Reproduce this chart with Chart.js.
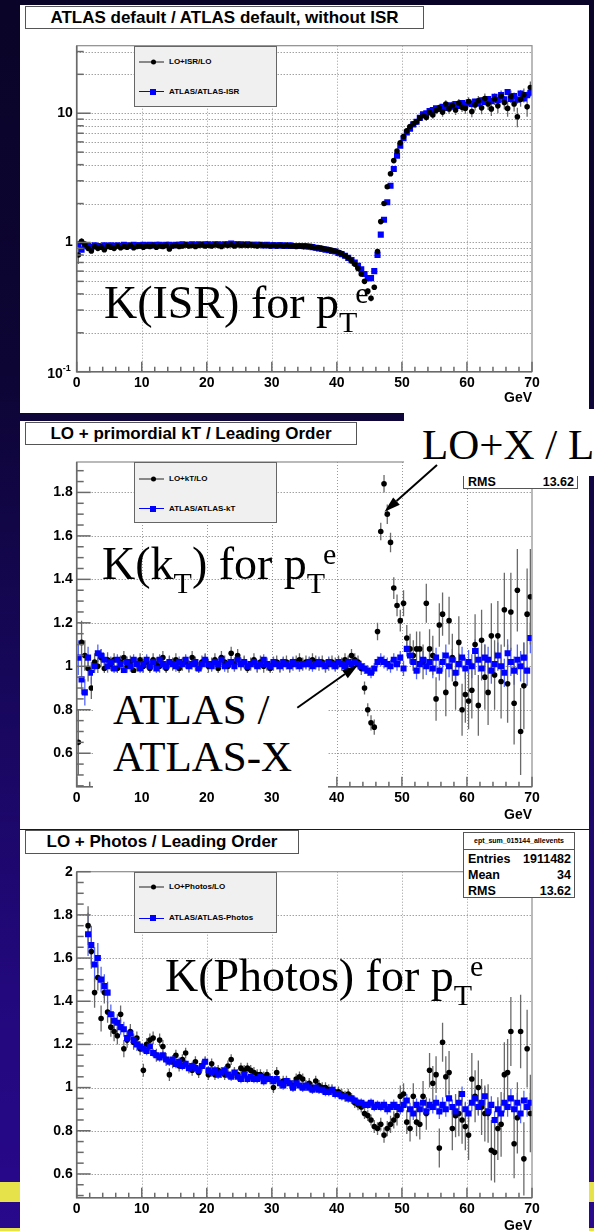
<!DOCTYPE html>
<html><head><meta charset="utf-8">
<script src="https://cdn.jsdelivr.net/npm/chart.js@4.4.0/dist/chart.umd.min.js"></script>
<style>
html,body{margin:0;padding:0}
body{width:594px;height:1231px;position:relative;overflow:hidden;
 background:linear-gradient(to bottom,#0a0428 0%,#0d0534 30%,#17075a 55%,#22087c 80%,#28088c 100%);
 font-family:"Liberation Sans",Arial,Helvetica,sans-serif}
.a{position:absolute}
.yel{position:absolute;background:#e6e24a;left:0;width:594px}
.wp{position:absolute;background:#fff}
.tbox{position:absolute;background:#fff;border:1px solid #555;box-sizing:border-box;font-weight:bold;font-size:17px;text-align:center;color:#000;white-space:nowrap}
canvas{position:absolute}
.leg{position:absolute;background:#f0f0f0;border:1px solid #666;box-sizing:border-box}
.leg .ln{position:absolute;left:4px;width:25px;height:0}
.leg .t{position:absolute;left:34px;font-size:8px;font-weight:bold;line-height:1;transform:translateY(-50%);white-space:nowrap}
.leg .dot{position:absolute;left:15.5px;width:5px;height:5px;border-radius:50%;background:#000;transform:translateY(-50%)}
.leg .sq{position:absolute;left:15px;width:6px;height:6px;background:#0000ff;transform:translateY(-50%)}
.serif{position:absolute;font-family:"Liberation Serif","Times New Roman",serif;color:#000;white-space:nowrap;line-height:1}
.serif .sub{font-size:30px;position:relative;top:14px}
.serif .sup{font-size:30px;position:relative;top:-15px}
.stat{position:absolute;background:#fff;border:1px solid #555;box-sizing:border-box;font-weight:bold;color:#000}
.stat .row{position:absolute;left:4px;right:3px;display:flex;justify-content:space-between;font-size:12.5px;line-height:1;transform:translateY(-50%)}
</style></head>
<body>
<div class="yel" style="top:1182px;height:20px"></div>
<div class="yel" style="top:1228px;height:3px"></div>
<div class="wp" style="left:20px;top:5px;width:569px;height:408px"></div>
<div class="wp" style="left:20px;top:421px;width:569px;height:408px"></div>
<div class="wp" style="left:20px;top:830px;width:569px;height:401px"></div>

<canvas id="c1" width="569" height="408" style="left:20px;top:5px;width:569px;height:408px"></canvas>
<canvas id="c2" width="569" height="408" style="left:20px;top:421px;width:569px;height:408px"></canvas>
<canvas id="c3" width="569" height="401" style="left:20px;top:830px;width:569px;height:401px"></canvas>

<!-- titles -->
<div class="tbox" style="left:25px;top:6px;width:399px;height:23px;line-height:21px">ATLAS default / ATLAS default, without ISR</div>
<div class="tbox" style="left:25px;top:422px;width:332px;height:23px;line-height:21px">LO + primordial kT / Leading Order</div>
<div class="tbox" style="left:25px;top:830px;width:274px;height:24px;line-height:22px">LO + Photos / Leading Order</div>

<!-- legends -->
<div class="leg" style="left:134px;top:46px;width:143px;height:61px">
 <div class="ln" style="top:14px;border-top:2px solid #888"></div><div class="dot" style="top:15px"></div>
 <div class="t" style="top:15px">LO+ISR/LO</div>
 <div class="ln" style="top:44px;border-top:1px solid #0000ff"></div><div class="sq" style="top:44.5px"></div>
 <div class="t" style="top:44.5px">ATLAS/ATLAS-ISR</div>
</div>
<div class="leg" style="left:134px;top:462px;width:143px;height:61px">
 <div class="ln" style="top:14.5px;border-top:2px solid #888"></div><div class="dot" style="top:15.5px"></div>
 <div class="t" style="top:15.5px">LO+kT/LO</div>
 <div class="ln" style="top:45px;border-top:1px solid #0000ff"></div><div class="sq" style="top:45.5px"></div>
 <div class="t" style="top:45.5px">ATLAS/ATLAS-kT</div>
</div>
<div class="leg" style="left:134px;top:872px;width:143px;height:61px">
 <div class="ln" style="top:13px;border-top:2px solid #888"></div><div class="dot" style="top:14px"></div>
 <div class="t" style="top:14px">LO+Photos/LO</div>
 <div class="ln" style="top:44.5px;border-top:1px solid #0000ff"></div><div class="sq" style="top:45px"></div>
 <div class="t" style="top:45px">ATLAS/ATLAS-Photos</div>
</div>

<!-- stats boxes -->
<div class="stat" style="left:463px;top:440px;width:115px;height:49px">
 <div class="row" style="top:41px"><span>RMS</span><span>13.62</span></div>
</div>
<div class="stat" style="left:463px;top:832px;width:112px;height:66px">
 <div style="height:16px;border-bottom:1px solid #555;font-size:7px;text-align:center;line-height:16px">ept_sum_015144_allevents</div>
 <div class="row" style="top:25.5px"><span>Entries</span><span>1911482</span></div>
 <div class="row" style="top:42px"><span>Mean</span><span>34</span></div>
 <div class="row" style="top:58px"><span>RMS</span><span>13.62</span></div>
</div>

<!-- big annotation texts -->
<div class="serif" style="left:104px;top:280px;font-size:46px">K(ISR) for p<span class="sub">T</span><span class="sup">e</span></div>
<div class="serif" style="left:102px;top:541px;font-size:46px">K(k<span class="sub">T</span>) for p<span class="sub">T</span><span class="sup">e</span></div>
<div class="serif" style="left:165px;top:953px;font-size:46px">K(Photos) for p<span class="sub">T</span><span class="sup">e</span></div>
<div class="a" style="left:93px;top:673px;width:235px;height:115px;background:#fff"></div>
<div class="serif" style="left:113px;top:688px;font-size:43px">ATLAS /</div>
<div class="serif" style="left:113px;top:735px;font-size:43px">ATLAS-X</div>
<div class="a" style="left:404px;top:409px;width:190px;height:67px;background:#fff;overflow:hidden">
 <div class="serif" style="left:18px;top:14px;font-size:43px">LO+X / L</div>
</div>

<svg class="a" style="left:0;top:0" width="594" height="1231">
 <line x1="437" y1="465" x2="396.5" y2="501" stroke="#000" stroke-width="2"/>
 <polygon points="384.5,511.7 399.8,504.8 393.2,497.4" fill="#000"/>
 <line x1="297.3" y1="707.7" x2="345" y2="674" stroke="#000" stroke-width="2"/>
 <polygon points="358,665 347.8,678.3 342,670.1" fill="#000"/>
</svg>

<script>
// ---------- DATA ----------
const binCenters = [
0.25,0.75,1.25,1.75,2.25,2.75,3.25,3.75,4.25,4.75,
5.25,5.75,6.25,6.75,7.25,7.75,8.25,8.75,9.25,9.75,
10.25,10.75,11.25,11.75,12.25,12.75,13.25,13.75,14.25,14.75,
15.25,15.75,16.25,16.75,17.25,17.75,18.25,18.75,19.25,19.75,
20.25,20.75,21.25,21.75,22.25,22.75,23.25,23.75,24.25,24.75,
25.25,25.75,26.25,26.75,27.25,27.75,28.25,28.75,29.25,29.75,
30.25,30.75,31.25,31.75,32.25,32.75,33.25,33.75,34.25,34.75,
35.25,35.75,36.25,36.75,37.25,37.75,38.25,38.75,39.25,39.75,
40.25,40.75,41.25,41.75,42.25,42.75,43.25,43.75,44.25,44.75,
45.25,45.75,46.25,46.75,47.25,47.75,48.25,48.75,49.25,49.75,
50.25,50.75,51.25,51.75,52.25,52.75,53.25,53.75,54.25,54.75,
55.25,55.75,56.25,56.75,57.25,57.75,58.25,58.75,59.25,59.75,
60.25,60.75,61.25,61.75,62.25,62.75,63.25,63.75,64.25,64.75,
65.25,65.75,66.25,66.75,67.25,67.75,68.25,68.75,69.25,69.75];

const xTickLabels = [0,10,20,30,40,50,60,70];

// Panel 1: ISR (log scale)
const isrLoRatio = [
0.80,1.02,0.97,0.90,0.86,0.93,0.90,0.92,0.88,0.93,
0.92,0.90,0.94,0.91,0.93,0.92,0.95,0.91,0.93,0.94,
0.92,0.94,0.93,0.95,0.92,0.94,0.93,0.95,0.89,0.94,
0.95,0.93,0.94,0.96,0.94,0.95,0.93,0.95,0.96,0.94,
0.95,0.94,0.96,0.95,0.93,0.96,0.95,0.96,0.94,0.96,
0.95,0.96,0.95,0.96,0.95,0.94,0.96,0.95,0.95,0.94,
0.95,0.94,0.95,0.94,0.95,0.94,0.94,0.93,0.94,0.93,
0.94,0.93,0.92,0.91,0.91,0.90,0.89,0.88,0.87,0.86,
0.84,0.82,0.79,0.76,0.72,0.68,0.63,0.57,0.50,0.42,
0.37,0.45,0.85,1.45,2.0,2.7,3.4,4.3,5.1,5.9,
6.6,7.3,7.9,8.3,8.6,9.2,9.6,9.3,10.2,9.7,
10.5,11.0,10.2,11.8,10.8,11.5,10.6,12.0,11.1,10.9,
12.3,10.3,11.6,12.5,11.0,13.0,11.8,10.8,12.9,11.4,
13.6,12.1,10.9,13.5,11.8,9.4,12.8,13.9,11.2,15.8];
const isrLoErr = [
0.12,0.06,0.05,0.04,0.03,0.03,0.03,0.03,0.02,0.02,
0.02,0.02,0.02,0.02,0.02,0.02,0.02,0.02,0.02,0.02,
0.02,0.02,0.02,0.02,0.02,0.02,0.02,0.02,0.02,0.02,
0.02,0.02,0.02,0.02,0.02,0.02,0.02,0.02,0.02,0.02,
0.02,0.02,0.02,0.02,0.02,0.02,0.02,0.02,0.02,0.02,
0.02,0.02,0.02,0.02,0.02,0.02,0.02,0.02,0.02,0.02,
0.02,0.02,0.02,0.02,0.02,0.02,0.02,0.02,0.02,0.02,
0.02,0.02,0.02,0.02,0.02,0.02,0.02,0.02,0.02,0.02,
0.02,0.02,0.02,0.02,0.02,0.02,0.02,0.02,0.02,0.02,
0.02,0.02,0.03,0.05,0.07,0.09,0.12,0.15,0.18,0.22,
0.25,0.3,0.35,0.4,0.45,0.5,0.5,0.6,0.6,0.65,
0.7,0.7,0.8,0.8,0.85,0.85,0.9,0.9,0.9,1.0,
1.0,1.0,1.1,1.1,1.2,1.2,1.2,1.3,1.3,1.4,
1.4,1.4,1.5,1.5,1.5,1.6,1.6,1.6,1.8,1.8];
const isrAtlasRatio = [
0.97,0.88,0.95,0.94,0.92,0.95,0.94,0.93,0.95,0.94,
0.95,0.94,0.95,0.94,0.96,0.95,0.94,0.96,0.95,0.95,
0.96,0.95,0.96,0.95,0.96,0.96,0.95,0.96,0.96,0.95,
0.96,0.96,0.97,0.96,0.96,0.97,0.96,0.97,0.96,0.97,
0.97,0.96,0.97,0.97,0.96,0.97,0.97,0.98,0.97,0.97,
0.97,0.96,0.97,0.96,0.96,0.96,0.96,0.95,0.96,0.95,
0.95,0.95,0.95,0.95,0.94,0.95,0.94,0.94,0.94,0.94,
0.93,0.93,0.92,0.91,0.90,0.89,0.88,0.87,0.86,0.85,
0.83,0.81,0.79,0.76,0.73,0.70,0.66,0.62,0.57,0.53,
0.53,0.60,0.80,1.15,1.50,2.05,2.75,3.7,4.7,5.6,
6.4,7.1,7.6,8.2,8.6,9.2,9.8,10.0,10.4,10.6,
10.9,10.8,11.2,11.0,11.5,11.3,11.8,11.4,12.0,11.6,
12.1,11.8,12.3,11.9,12.6,12.2,12.9,12.4,13.4,12.6,
13.8,12.8,14.6,12.9,13.6,12.7,14.2,13.0,13.8,14.4];
const isrAtlasErr = [
0.06,0.04,0.03,0.03,0.02,0.02,0.02,0.02,0.02,0.02,
0.01,0.01,0.01,0.01,0.01,0.01,0.01,0.01,0.01,0.01,
0.01,0.01,0.01,0.01,0.01,0.01,0.01,0.01,0.01,0.01,
0.01,0.01,0.01,0.01,0.01,0.01,0.01,0.01,0.01,0.01,
0.01,0.01,0.01,0.01,0.01,0.01,0.01,0.01,0.01,0.01,
0.01,0.01,0.01,0.01,0.01,0.01,0.01,0.01,0.01,0.01,
0.01,0.01,0.01,0.01,0.01,0.01,0.01,0.01,0.01,0.01,
0.01,0.01,0.01,0.01,0.01,0.01,0.01,0.01,0.01,0.01,
0.01,0.01,0.01,0.01,0.01,0.01,0.01,0.01,0.01,0.01,
0.01,0.01,0.02,0.03,0.04,0.05,0.07,0.09,0.11,0.13,
0.15,0.18,0.2,0.22,0.25,0.28,0.3,0.32,0.34,0.36,
0.38,0.4,0.42,0.44,0.46,0.48,0.5,0.52,0.54,0.56,
0.58,0.6,0.62,0.64,0.66,0.68,0.7,0.72,0.74,0.76,
0.78,0.8,0.82,0.84,0.86,0.88,0.9,0.92,0.94,0.96];

// Panel 2: primordial kT
const ktLoRatio = [
0.65,1.11,1.05,0.99,0.90,1.02,1.00,1.04,0.99,1.03,
1.01,1.03,0.99,1.02,1.04,1.00,1.02,0.98,1.01,1.03,
1.00,1.02,0.99,1.03,1.01,1.00,1.04,0.99,1.02,1.01,
1.03,0.99,1.01,1.02,1.00,1.04,1.01,0.99,1.02,1.03,
1.00,1.01,1.03,0.99,1.04,1.02,1.00,1.06,1.01,1.05,
1.01,1.02,0.99,1.01,1.03,1.00,1.02,1.00,1.01,0.99,
1.01,1.02,1.00,1.01,1.02,1.00,1.01,1.02,1.03,1.01,
1.02,1.01,1.03,1.02,1.01,1.02,1.00,1.01,1.02,1.01,
1.02,1.01,1.03,1.02,1.05,1.03,1.02,0.99,0.90,0.80,
0.74,0.72,1.16,1.62,1.84,1.70,1.57,1.36,1.28,1.21,
1.29,1.13,1.08,1.05,1.08,1.08,1.02,1.29,1.08,1.05,
0.85,1.19,1.24,0.88,1.21,1.04,0.92,1.11,0.80,0.87,
0.84,0.89,1.10,0.82,1.12,0.95,0.88,1.14,0.96,1.14,
0.93,1.26,0.92,1.25,0.83,1.35,0.70,0.91,1.24,1.32];
const ktLoErr = [
0.15,0.1,0.07,0.06,0.05,0.04,0.04,0.04,0.035,0.035,
0.03,0.03,0.03,0.03,0.03,0.03,0.03,0.03,0.03,0.03,
0.03,0.03,0.03,0.03,0.03,0.03,0.03,0.03,0.03,0.03,
0.03,0.03,0.03,0.03,0.03,0.03,0.03,0.03,0.03,0.03,
0.03,0.03,0.03,0.03,0.03,0.03,0.03,0.03,0.03,0.03,
0.03,0.03,0.03,0.03,0.03,0.03,0.03,0.03,0.03,0.03,
0.03,0.03,0.03,0.03,0.03,0.03,0.03,0.03,0.03,0.03,
0.03,0.03,0.03,0.03,0.03,0.03,0.03,0.03,0.03,0.03,
0.03,0.03,0.03,0.03,0.03,0.03,0.03,0.03,0.03,0.03,
0.035,0.035,0.04,0.04,0.04,0.045,0.045,0.05,0.05,0.05,
0.06,0.06,0.07,0.07,0.08,0.08,0.08,0.09,0.09,0.09,
0.1,0.1,0.1,0.11,0.11,0.11,0.12,0.12,0.12,0.13,
0.13,0.13,0.14,0.14,0.14,0.15,0.15,0.15,0.16,0.16,
0.17,0.17,0.18,0.18,0.19,0.19,0.2,0.2,0.21,0.22];
const ktAtlasRatio = [
1.04,0.94,0.88,1.04,0.97,1.00,1.06,1.05,1.03,1.00,
1.02,0.99,1.03,1.01,0.98,1.02,1.00,1.03,1.01,0.99,
1.01,1.03,1.00,1.02,0.99,1.03,1.01,1.00,1.02,1.01,
1.00,1.02,1.01,1.03,1.00,1.01,1.02,0.99,1.01,1.03,
1.01,1.00,1.02,1.01,1.03,1.00,1.01,1.02,1.00,1.03,
1.01,1.02,1.00,1.01,1.02,1.00,1.01,1.03,1.01,1.00,
1.02,1.01,1.00,1.02,1.01,1.00,1.02,1.01,1.00,1.01,
1.01,1.02,1.00,1.01,1.02,1.01,1.00,1.02,1.01,1.00,
1.02,1.01,1.00,1.02,1.01,1.02,1.01,1.00,0.99,0.98,
0.97,0.99,1.02,1.03,1.02,1.01,1.00,1.03,1.01,1.04,
0.99,1.08,1.05,1.02,0.98,1.01,1.03,1.00,1.02,0.99,
1.04,0.98,1.02,1.05,1.00,1.03,0.97,1.01,1.04,0.99,
1.02,1.00,1.07,1.03,0.99,1.04,1.03,0.98,1.01,1.05,
1.00,0.97,1.06,1.02,0.98,1.03,1.00,1.04,0.98,1.13];
const ktAtlasErr = [
0.08,0.07,0.06,0.05,0.05,0.04,0.04,0.03,0.03,0.03,
0.025,0.025,0.025,0.025,0.025,0.025,0.025,0.025,0.025,0.025,
0.025,0.025,0.025,0.025,0.025,0.025,0.025,0.025,0.025,0.025,
0.025,0.025,0.025,0.025,0.025,0.025,0.025,0.025,0.025,0.025,
0.025,0.025,0.025,0.025,0.025,0.025,0.025,0.025,0.025,0.025,
0.025,0.025,0.025,0.025,0.025,0.025,0.025,0.025,0.025,0.025,
0.025,0.025,0.025,0.025,0.025,0.025,0.025,0.025,0.025,0.025,
0.025,0.025,0.025,0.025,0.025,0.025,0.025,0.025,0.025,0.025,
0.025,0.025,0.025,0.025,0.025,0.025,0.025,0.025,0.025,0.025,
0.025,0.025,0.025,0.03,0.03,0.03,0.03,0.03,0.03,0.03,
0.035,0.035,0.035,0.04,0.04,0.04,0.04,0.04,0.045,0.045,
0.045,0.045,0.045,0.05,0.05,0.05,0.05,0.05,0.05,0.05,
0.055,0.055,0.055,0.055,0.055,0.06,0.06,0.06,0.06,0.06,
0.06,0.065,0.065,0.065,0.065,0.07,0.07,0.07,0.07,0.07];

// Panel 3: Photos
const phLoRatio = [
null,null,null,1.75,1.63,1.44,1.51,1.32,1.44,1.35,
1.28,1.26,1.24,1.34,1.18,1.22,1.26,1.21,1.23,1.18,
1.08,1.20,1.22,1.23,1.15,1.22,1.19,1.13,1.06,1.12,
1.15,1.10,1.13,1.16,1.09,1.08,1.12,1.07,1.10,1.12,
1.06,1.11,1.06,1.08,1.07,1.06,1.10,1.13,1.07,1.06,
1.09,1.08,1.09,1.08,1.07,1.06,1.06,1.05,1.06,1.04,
1.00,1.07,1.02,1.03,1.03,1.02,1.01,1.04,1.05,1.04,
1.01,1.02,1.00,1.03,1.01,1.00,1.00,0.99,0.99,0.98,
0.98,0.97,0.96,0.97,0.95,0.93,0.92,0.91,0.88,0.87,
0.85,0.82,0.81,0.83,0.78,0.81,0.83,0.85,0.87,0.96,
0.97,0.84,0.81,0.96,0.84,0.83,0.96,0.88,1.08,1.02,
1.06,0.72,1.21,1.05,1.07,0.81,0.87,0.88,0.85,0.82,
0.78,1.04,0.96,1.00,0.91,0.88,0.88,0.71,0.70,0.81,
0.83,1.06,1.07,1.26,0.74,0.86,1.26,0.67,1.18,0.88];
const phLoErr = [
null,null,null,0.09,0.08,0.07,0.06,0.06,0.05,0.05,
0.045,0.045,0.04,0.04,0.04,0.035,0.035,0.035,0.03,0.03,
0.03,0.03,0.03,0.03,0.03,0.03,0.03,0.03,0.03,0.03,
0.025,0.025,0.025,0.025,0.025,0.025,0.025,0.025,0.025,0.025,
0.025,0.025,0.025,0.025,0.025,0.025,0.025,0.025,0.025,0.025,
0.025,0.025,0.025,0.025,0.025,0.025,0.025,0.025,0.025,0.025,
0.025,0.025,0.025,0.025,0.025,0.025,0.025,0.025,0.025,0.025,
0.025,0.025,0.025,0.025,0.025,0.025,0.025,0.025,0.025,0.025,
0.025,0.025,0.025,0.025,0.025,0.025,0.025,0.025,0.025,0.025,
0.025,0.03,0.03,0.03,0.035,0.035,0.04,0.04,0.045,0.05,
0.05,0.055,0.06,0.06,0.065,0.07,0.07,0.075,0.08,0.08,
0.085,0.09,0.09,0.095,0.1,0.1,0.1,0.105,0.11,0.11,
0.115,0.12,0.12,0.125,0.13,0.13,0.135,0.14,0.14,0.145,
0.15,0.15,0.155,0.16,0.16,0.165,0.17,0.17,0.18,0.18];
const phAtlasRatio = [
null,null,null,1.71,1.66,1.57,1.60,1.50,1.47,1.44,
1.34,1.31,1.30,1.28,1.27,1.23,1.25,1.22,1.20,1.19,
1.18,1.17,1.19,1.16,1.15,1.14,1.15,1.13,1.12,1.13,
1.11,1.12,1.10,1.11,1.09,1.10,1.09,1.08,1.10,1.12,
1.08,1.07,1.08,1.06,1.07,1.08,1.06,1.05,1.07,1.05,
1.04,1.06,1.04,1.05,1.04,1.04,1.05,1.03,1.04,1.04,
1.03,1.04,1.02,1.01,1.03,1.02,1.00,1.02,1.01,1.00,
1.01,1.00,0.99,1.00,0.99,0.99,0.98,0.98,0.99,0.97,
0.97,0.96,0.96,0.95,0.95,0.94,0.93,0.93,0.92,0.92,
0.93,0.91,0.92,0.91,0.92,0.90,0.91,0.92,0.91,0.90,
0.92,0.94,0.90,0.88,0.92,0.90,0.93,0.89,0.92,0.91,
0.93,0.89,0.92,0.90,0.95,0.91,0.89,0.93,0.97,0.90,
0.88,0.93,0.95,0.91,0.93,0.96,0.89,0.92,0.85,0.90,
0.88,0.93,0.91,0.95,0.90,0.93,0.88,0.94,0.91,0.93];
const phAtlasErr = [
null,null,null,0.1,0.09,0.08,0.07,0.06,0.055,0.05,
0.045,0.04,0.04,0.035,0.035,0.03,0.03,0.03,0.03,0.025,
0.02,0.02,0.02,0.02,0.02,0.02,0.02,0.02,0.02,0.02,
0.02,0.02,0.02,0.02,0.02,0.02,0.02,0.02,0.02,0.02,
0.02,0.02,0.02,0.02,0.02,0.02,0.02,0.02,0.02,0.02,
0.02,0.02,0.02,0.02,0.02,0.02,0.02,0.02,0.02,0.02,
0.02,0.02,0.02,0.02,0.02,0.02,0.02,0.02,0.02,0.02,
0.02,0.02,0.02,0.02,0.02,0.02,0.02,0.02,0.02,0.02,
0.02,0.02,0.02,0.02,0.02,0.02,0.02,0.02,0.02,0.02,
0.02,0.02,0.02,0.02,0.025,0.025,0.025,0.025,0.025,0.025,
0.03,0.03,0.03,0.03,0.03,0.03,0.03,0.03,0.03,0.03,
0.035,0.035,0.035,0.035,0.035,0.035,0.035,0.035,0.035,0.035,
0.04,0.04,0.04,0.04,0.04,0.04,0.04,0.04,0.04,0.04,
0.045,0.045,0.045,0.045,0.045,0.045,0.045,0.045,0.045,0.045];

// ---------- CHART ----------
function toPoints(vals, errs){
  const out=[];
  vals.forEach((v,i)=>{ if(v!=null) out.push({x:binCenters[i], y:v, e:errs[i]}); });
  return out;
}

const rootPlugin = {
  id:'rootStyle',
  beforeDatasetsDraw(chart, args, o){
    const {ctx, chartArea:a, scales:{x,y}} = chart;
    ctx.save();
    ctx.beginPath(); ctx.rect(a.left,a.top,a.right-a.left,a.bottom-a.top); ctx.clip();
    ctx.lineWidth=1; ctx.setLineDash([1,2]);
    ctx.strokeStyle='#9a9a9a';
    o.xGrid.forEach(v=>{const p=Math.round(x.getPixelForValue(v))+0.5;ctx.beginPath();ctx.moveTo(p,a.top);ctx.lineTo(p,a.bottom);ctx.stroke();});
    ctx.strokeStyle='#777';
    o.yGrid.forEach(v=>{const p=Math.round(y.getPixelForValue(v))+0.5;ctx.beginPath();ctx.moveTo(a.left,p);ctx.lineTo(a.right,p);ctx.stroke();});
    ctx.setLineDash([]);
    chart.data.datasets.forEach(ds=>{
      ctx.strokeStyle=ds.errColor; ctx.lineWidth=1.3;
      ds.data.forEach(d=>{
        if(!d.e) return;
        const px=x.getPixelForValue(d.x);
        let lo=d.y-d.e; if(lo<=0) lo=d.y*0.5;
        ctx.beginPath(); ctx.moveTo(px,y.getPixelForValue(lo)); ctx.lineTo(px,y.getPixelForValue(d.y+d.e)); ctx.stroke();
      });
    });
    ctx.restore();
  },
  afterDatasetsDraw(chart, args, o){
    const {ctx, chartArea:a, scales:{x,y}} = chart;
    ctx.save();
    ctx.strokeStyle='#8c8c8c'; ctx.lineWidth=1.2;
    ctx.strokeRect(a.left,a.top,a.right-a.left,a.bottom-a.top);
    ctx.strokeStyle='#6a6a6a'; ctx.lineWidth=1.6;
    ctx.beginPath(); ctx.moveTo(a.left,a.top); ctx.lineTo(a.left,a.bottom); ctx.lineTo(a.right,a.bottom); ctx.stroke();
    ctx.lineWidth=1.5;
    for(let k=0;k<=35;k++){
      const v=k*2, p=x.getPixelForValue(v), L=(v%10===0)?10:5;
      ctx.beginPath(); ctx.moveTo(p,a.bottom); ctx.lineTo(p,a.bottom-L); ctx.stroke();
    }
    o.yTicks.forEach(t=>{
      const p=y.getPixelForValue(t[0]);
      ctx.beginPath(); ctx.moveTo(a.left,p); ctx.lineTo(a.left+(t[1]?14:7),p); ctx.stroke();
    });
    ctx.fillStyle='#000'; ctx.font='bold 14px "Liberation Sans", Arial, sans-serif';
    ctx.textAlign='right'; ctx.textBaseline='middle';
    ctx.fillText('GeV', a.right, a.bottom+o.gevDy);
    if(o.log){
      const p=y.getPixelForValue(0.1);
      ctx.fillText('10', a.left-14, p+2);
      ctx.font='bold 9px "Liberation Sans", Arial, sans-serif'; ctx.textAlign='left';
      ctx.fillText('-1', a.left-14, p-3);
    }
    ctx.restore();
  }
};

function linTicks(min,max){
  const t=[]; for(let k=Math.ceil(min*20-1e-9);k<=Math.floor(max*20+1e-9);k++) t.push([k/20, k%4===0]);
  return t;
}
function logTicks(min,max){
  const t=[]; [0.1,1,10].forEach(d=>{for(let m=1;m<=9;m++){const v=+(m*d).toPrecision(3); if(v>=min&&v<=max) t.push([v,m===1]);}});
  return t;
}
const tickFont={family:'"Liberation Sans", Arial, sans-serif', weight:'bold', size:14};
const fmt=v=>String(+(+v).toFixed(1));

function makeChart(id, cfg){
  const isLog=cfg.log;
  return new Chart(document.getElementById(id), {
    type:'scatter',
    data:{datasets:cfg.datasets},
    options:{
      responsive:false, animation:false, devicePixelRatio:1, events:[],
      layout:{padding:{top:cfg.padTop,right:57,left:0,bottom:0}},
      plugins:{legend:{display:false}, tooltip:{enabled:false},
        rootStyle:{xGrid:[10,20,30,40,50,60], yGrid:cfg.yGrid, yTicks:cfg.yTicks, log:isLog, gevDy:cfg.gevDy}},
      scales:{
        x:{type:'linear', min:0, max:70,
           grid:{display:false, drawTicks:false}, border:{display:false},
           ticks:{font:tickFont, color:'#000', padding:3, maxRotation:0, autoSkip:false, callback:v=>String(v)},
           afterBuildTicks:s=>{s.ticks=xTickLabels.map(v=>({value:v}));},
           afterFit:s=>{s.height=cfg.xH;}},
        y:{type:isLog?'logarithmic':'linear', min:cfg.yMin, max:cfg.yMax,
           grid:{display:false, drawTicks:false}, border:{display:false},
           ticks:{font:tickFont, color:'#000', padding:4, autoSkip:false,
                  callback:v=> isLog ? (v===1?'1':(v===10?'10':'')) : fmt(v)},
           afterBuildTicks:s=>{s.ticks=cfg.yLabels.map(v=>({value:v}));},
           afterFit:s=>{s.width=56.7;}}
      }
    },
    plugins:[rootPlugin]
  });
}

const blackStyle={pointStyle:'circle', pointRadius:2.8, backgroundColor:'#000', borderWidth:0, errColor:'#6a6a6a'};
const blueStyle={pointStyle:'rect', pointRadius:4.3, backgroundColor:'#0000ff', borderWidth:0, errColor:'#5566ff'};

// Panel 1
(function(){
  const lt=logTicks(0.1,33.3);
  makeChart('c1',{log:true, yMin:0.1, yMax:33.3, padTop:40.7, xH:41.3, gevDy:26.6,
    yLabels:[0.1,1,10], yTicks:lt, yGrid:lt.map(t=>t[0]).filter(v=>v>0.1),
    datasets:[
      Object.assign({label:'LO+ISR/LO', data:toPoints(isrLoRatio,isrLoErr), order:0}, blackStyle),
      Object.assign({label:'ATLAS/ATLAS-ISR', data:toPoints(isrAtlasRatio,isrAtlasErr), order:1}, blueStyle)
    ]});
})();
// Panel 2
makeChart('c2',{log:false, yMin:0.446, yMax:1.94, padTop:41, xH:42.3, gevDy:28.3,
  yLabels:[0.6,0.8,1.0,1.2,1.4,1.6,1.8], yTicks:linTicks(0.446,1.94), yGrid:[0.6,0.8,1.0,1.2,1.4,1.6,1.8],
  datasets:[
    Object.assign({label:'ATLAS/ATLAS-kT', data:toPoints(ktAtlasRatio,ktAtlasErr), order:0}, blueStyle),
    Object.assign({label:'LO+kT/LO', data:toPoints(ktLoRatio,ktLoErr), order:1}, blackStyle)
  ]});
// Panel 3
makeChart('c3',{log:false, yMin:0.49, yMax:2.0, padTop:41.7, xH:33.3, gevDy:28.3,
  yLabels:[0.6,0.8,1.0,1.2,1.4,1.6,1.8,2.0], yTicks:linTicks(0.49,2.0), yGrid:[0.6,0.8,1.0,1.2,1.4,1.6,1.8],
  datasets:[
    Object.assign({label:'ATLAS/ATLAS-Photos', data:toPoints(phAtlasRatio,phAtlasErr), order:0}, blueStyle),
    Object.assign({label:'LO+Photos/LO', data:toPoints(phLoRatio,phLoErr), order:1}, blackStyle)
  ]});
</script>
</body></html>
